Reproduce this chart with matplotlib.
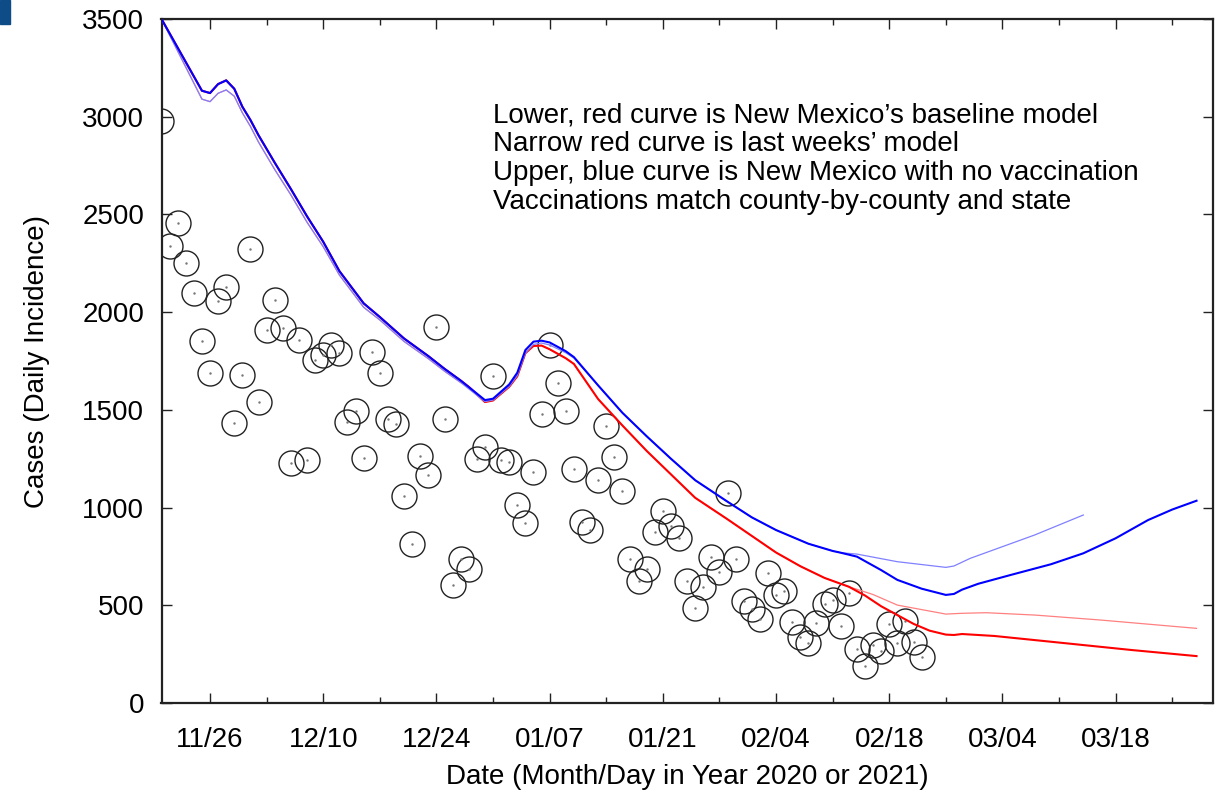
import matplotlib
matplotlib.use("Agg")
import matplotlib.pyplot as plt
import matplotlib.dates as mdates
from matplotlib.patches import Rectangle
import numpy as np

plt.rcParams["font.family"] = ["Liberation Sans", "DejaVu Sans"]

start = np.datetime64("2020-11-20")

# reported daily cases, one per day from 11/20
cases = [2980, 2340, 2455, 2250, 2100, 1854, 1690, 2055, 2129, 1434,
         1676, 2323, 1542, 1909, 2060, 1917, 1230, 1857, 1243, 1757,
         1781, 1832, 1789, 1438, 1496, 1255, 1798, 1687, 1453, 1426,
         1059, 812, 1265, 1165, 1922, 1453, 602, 738, 687, 1247,
         1308, 1675, 1243, 1233, 1012, 920, 1180, 1480, 1834, 1636,
         1496, 1199, 928, 885, 1143, 1419, 1260, 1085, 737, 623,
         687, 877, 984, 906, 844, 623, 486, 595, 747, 669,
         1076, 737, 522, 483, 428, 664, 553, 575, 416, 339,
         305, 411, 505, 529, 396, 561, 276, 188, 298, 268,
         404, 305, 420, 310, 233]

# model curves: days after 11/20 and daily incidence
novax_days = [0, 5, 6, 7, 8, 9, 10, 11, 12, 14, 16, 18, 20, 22, 25, 27, 30, 33,
              35, 37, 40, 41, 43, 44, 45, 46, 47, 48, 50, 51, 54, 57, 60, 63,
              66, 70, 73, 76, 80, 83, 84, 86, 89, 91, 94, 97, 98, 99, 101, 105,
              110, 114, 118, 122, 125, 128]
novax_vals = [3500, 3133, 3121, 3167, 3186, 3143, 3051, 2983, 2905, 2765, 2630,
              2490, 2360, 2210, 2045, 1975, 1865, 1775, 1710, 1650, 1550, 1557,
              1630, 1690, 1806, 1849, 1854, 1845, 1800, 1770, 1625, 1485, 1365,
              1250, 1140, 1030, 950, 885, 815, 778, 769, 749, 680, 630, 585,
              553, 558, 580, 610, 655, 710, 766, 843, 936, 990, 1035]

base_days = [0, 5, 6, 7, 8, 9, 10, 11, 12, 14, 16, 18, 20, 22, 25, 27, 30, 33,
             35, 37, 38, 40, 41, 43, 44, 45, 46, 47, 48, 50, 51, 54, 57, 60,
             63, 66, 70, 73, 76, 79, 82, 85, 87, 89, 91, 93, 95, 97, 98, 99,
             103, 112, 120, 128]
base_vals = [3500, 3133, 3121, 3167, 3186, 3143, 3051, 2983, 2905, 2765, 2630,
             2490, 2360, 2210, 2045, 1975, 1865, 1775, 1710, 1650, 1618, 1540,
             1548, 1618, 1672, 1790, 1827, 1829, 1810, 1764, 1735, 1555, 1420,
             1290, 1170, 1050, 940, 855, 770, 700, 640, 595, 550, 495, 450,
             405, 370, 350, 348, 353, 343, 305, 271, 240]

# last week's run
prev_novax_days = [0, 5, 6, 7, 8, 9, 10, 11, 12, 14, 16, 18, 20, 22, 25, 27,
                   30, 33, 35, 37, 40, 41, 43, 44, 45, 46, 47, 48, 50, 51, 54,
                   57, 60, 63, 66, 70, 73, 76, 80, 83, 84, 86, 91, 97, 98, 100,
                   104, 108, 114]
prev_novax_vals = [3500, 3090, 3077, 3120, 3137, 3105, 3020, 2950, 2870, 2730,
                   2600, 2460, 2335, 2190, 2025, 1960, 1850, 1762, 1698, 1640,
                   1542, 1550, 1620, 1675, 1790, 1835, 1842, 1832, 1792, 1765,
                   1625, 1485, 1365, 1250, 1140, 1030, 950, 885, 815, 778, 769,
                   762, 723, 694, 701, 740, 800, 860, 962]

prev_base_days = [0, 5, 6, 7, 8, 9, 10, 11, 12, 14, 16, 18, 20, 22, 25, 27, 30,
                  33, 35, 37, 38, 40, 41, 43, 44, 45, 46, 47, 48, 50, 51, 54,
                  57, 60, 63, 66, 70, 73, 76, 79, 82, 85, 88, 91, 97, 99, 102,
                  108, 116, 128]
prev_base_vals = [3500, 3090, 3077, 3120, 3137, 3105, 3020, 2950, 2870, 2730,
                  2600, 2460, 2335, 2190, 2025, 1960, 1850, 1762, 1698, 1640,
                  1618, 1540, 1548, 1618, 1672, 1790, 1827, 1829, 1810, 1764,
                  1735, 1555, 1420, 1290, 1170, 1050, 940, 855, 770, 700, 640,
                  595, 555, 501, 455, 459, 462, 450, 425, 382]

notes = ["Lower, red curve is New Mexico\u2019s baseline model",
         "Narrow red curve is last weeks\u2019 model",
         "Upper, blue curve is New Mexico with no vaccination",
         "Vaccinations match county-by-county and state"]


def to_dates(days):
    return start + np.array(days, dtype="timedelta64[D]")


fig = plt.figure(figsize=(12.18, 7.91), dpi=100)
ax = fig.add_axes([161.5 / 1218, 88 / 791, (1212.7 - 161.5) / 1218, (703 - 19) / 791])

case_dates = start + np.arange(len(cases)).astype("timedelta64[D]")
ax.plot(case_dates, cases, "o", ms=18, mfc="none", mec="#222222", mew=1.0, zorder=2)
ax.plot(case_dates, cases, ".", ms=1.5, color="#777777", zorder=2)

ax.plot(to_dates(prev_base_days), prev_base_vals, color="#ff8080", lw=0.9, zorder=3)
ax.plot(to_dates(base_days), base_vals, color="#ff0000", lw=1.5, zorder=4)
ax.plot(to_dates(prev_novax_days), prev_novax_vals, color="#8080ff", lw=0.9, zorder=5)
ax.plot(to_dates(novax_days), novax_vals, color="#0000ff", lw=1.5, zorder=6)

ax.set_xlim(start, start + np.timedelta64(130, "D"))
ax.set_ylim(0, 3500)

first = np.datetime64("2020-11-26")
major = [mdates.date2num(first + np.timedelta64(14 * k, "D")) for k in range(9)]
minor = [mdates.date2num(first + np.timedelta64(7 + 14 * k, "D")) for k in range(9)]
ax.xaxis.set_major_locator(matplotlib.ticker.FixedLocator(major))
ax.xaxis.set_minor_locator(matplotlib.ticker.FixedLocator(minor))
ax.xaxis.set_major_formatter(mdates.DateFormatter("%m/%d"))
ax.set_yticks(np.arange(0, 3501, 500))

ax.tick_params(which="both", direction="in", top=True, right=True, width=1.0,
               color="#222222", labelsize=20)
ax.tick_params(which="major", length=7)
ax.tick_params(which="minor", length=4)
ax.tick_params(axis="x", pad=17)
ax.tick_params(axis="y", pad=12.5)
for s in ax.spines.values():
    s.set_linewidth(1.6)
    s.set_color("#222222")

ax.set_xlabel("Date (Month/Day in Year 2020 or 2021)", fontsize=20, labelpad=8)
ax.set_ylabel("Cases (Daily Incidence)", fontsize=20, labelpad=23)

for i, line in enumerate(notes):
    fig.text(493 / 1218, 1 - (115 + 29 * i) / 791, line, fontsize=20,
             ha="left", va="center")

fig.patches.append(Rectangle((0, 1 - 24 / 791), 10 / 1218, 24 / 791,
                             transform=fig.transFigure, color="#0d4c87"))

fig.savefig("out.png", dpi=100)
